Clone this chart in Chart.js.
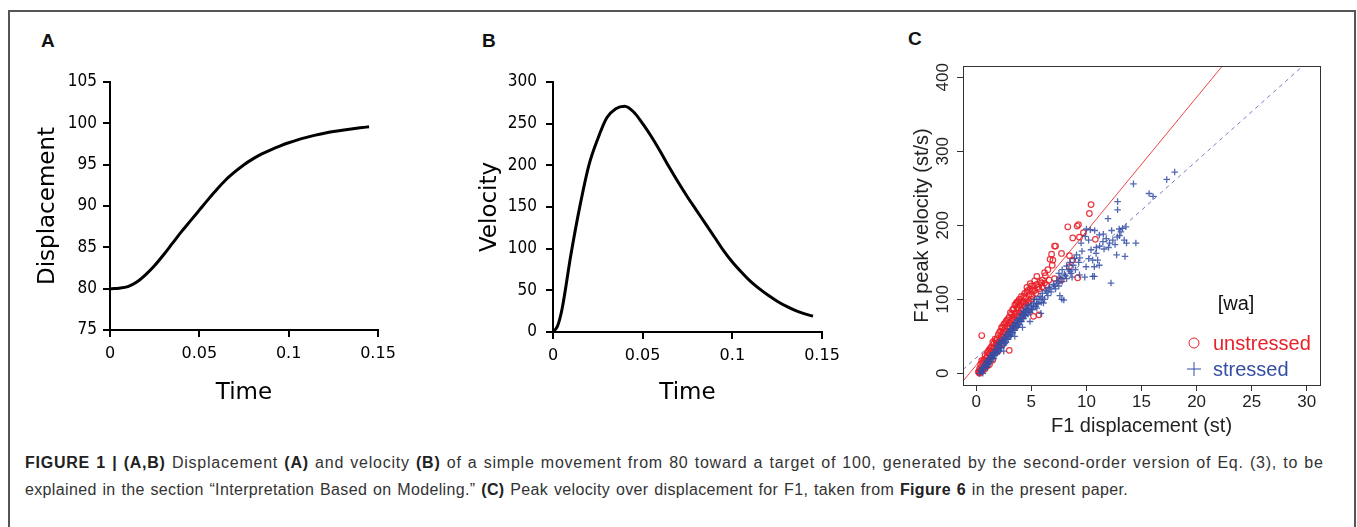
<!DOCTYPE html>
<html lang="en">
<head>
<meta charset="UTF-8">
<title>Figure 1</title>
<script src="https://cdn.jsdelivr.net/npm/chart.js"></script>
<style>
    body { margin: 0; background: #fff; width: 1357px; height: 527px; overflow: hidden; position: relative; font-family: 'Liberation Sans', Arial, sans-serif; }
    .moldura { position: absolute; left: 8px; top: 10px; width: 1348px; height: 600px; border: 2px solid #555; box-sizing: border-box; }
    .painel { position: absolute; }
    .letra { position: absolute; font: bold 19px 'Liberation Sans', Arial, sans-serif; line-height: 19px; color: #111; }
    .legenda { position: absolute; left: 25px; top: 449px; font-size: 16px; word-spacing: 1px; line-height: 27px; color: #333; white-space: nowrap; }
    .legenda b { color: #222; }
    .linha1 { letter-spacing: 0.77px; }
    .linha2 { letter-spacing: 0.35px; }
</style>
</head>
<body>

<div class="moldura"></div>

<div class="letra" style="left:41px; top:31px;">A</div>
<div class="letra" style="left:482px; top:31px;">B</div>
<div class="letra" style="left:908px; top:29px;">C</div>

<canvas id="graficoA" class="painel" width="420" height="360" style="left:20px; top:55px;"></canvas>
<canvas id="graficoB" class="painel" width="420" height="360" style="left:460px; top:55px;"></canvas>
<canvas id="graficoC" class="painel" width="455" height="390" style="left:885px; top:50px;"></canvas>

<div class="legenda">
    <span class="linha1"><b>FIGURE 1 | (A,B)</b> Displacement <b>(A)</b> and velocity <b>(B)</b> of a simple movement from 80 toward a target of 100, generated by the second-order version of Eq. (3), to be</span><br>
    <span class="linha2">explained in the section “Interpretation Based on Modeling.” <b>(C)</b> Peak velocity over displacement for F1, taken from <b>Figure 6</b> in the present paper.</span>
</div>

<script>
    // ---- dados dos paineis A e B (movimento simples de 80 para 100)
    const tempo = [0, 0.0025, 0.005, 0.01, 0.015, 0.02, 0.025, 0.03, 0.035, 0.04, 0.045, 0.05, 0.055, 0.06, 0.065, 0.07,
        0.075, 0.08, 0.085, 0.09, 0.095, 0.1, 0.105, 0.11, 0.115, 0.12, 0.125, 0.13, 0.135, 0.14, 0.145];
    const deslocamento = [80.0, 80.01, 80.05, 80.25, 80.8, 81.7, 82.8, 84.1, 85.5, 86.9, 88.2, 89.5, 90.8, 92.05, 93.2, 94.15,
        95.0, 95.7, 96.3, 96.8, 97.25, 97.65, 98.0, 98.3, 98.57, 98.8, 99.0, 99.17, 99.32, 99.46, 99.58];
    const velocidade = [0, 7, 27, 93, 151, 200, 232, 257, 268, 271, 264, 250, 234, 216, 197, 179,
        162, 146, 130, 114, 98, 84, 72, 61, 52, 44, 37, 31, 26, 22, 19];

    const ticksTempo = [0, 0.05, 0.1, 0.15];
    const ticksDesloc = [75, 80, 85, 90, 95, 100, 105];
    const ticksVeloc = [0, 50, 100, 150, 200, 250, 300];

    // ---- dados do painel C (F1, [wa])
    const naoTonico = [
        [0.2, 2], [0.25, 1], [0.3, 0], [0.3, 6], [0.35, 4], [0.4, 3], [0.45, 2], [0.5, 9], [0.4, 12], [0.6, 14], [0.5, 17],
        [0.7, 8], [0.8, 16], [0.9, 20], [0.8, 24], [1.0, 22], [1.1, 17], [1.0, 28], [1.2, 26], [1.2, 32], [1.3, 22],
        [1.4, 30], [1.4, 36], [1.5, 27], [1.6, 40], [1.6, 34], [1.7, 31], [1.8, 44], [1.8, 38], [1.9, 47], [2.0, 42],
        [2.0, 52], [2.1, 37], [2.2, 46], [2.2, 57], [2.3, 50], [2.4, 54], [2.4, 62], [2.5, 47], [2.6, 60], [2.6, 67],
        [2.7, 57], [2.8, 64], [2.8, 72], [2.9, 53], [3.0, 68], [3.0, 76], [3.1, 62], [3.2, 72], [3.2, 80], [3.3, 66],
        [3.4, 77], [3.4, 87], [3.5, 72], [3.6, 82], [3.6, 94], [3.7, 78], [3.8, 88], [3.8, 97], [3.9, 82], [4.0, 92],
        [4.0, 100], [4.1, 86], [4.2, 97], [4.3, 104], [4.4, 90], [4.5, 102], [4.6, 110], [4.7, 96], [4.8, 106],
        [4.9, 114], [5.0, 100], [5.1, 112], [5.2, 118], [5.4, 108], [5.5, 120], [5.7, 114], [5.8, 124], [6.0, 117],
        [0.6, 4], [0.7, 18], [0.9, 12], [1.0, 10], [1.1, 30], [1.3, 34], [1.5, 42], [1.5, 18], [1.7, 46], [1.9, 36],
        [2.1, 55], [2.3, 62], [2.5, 66], [2.5, 56], [2.7, 70], [2.9, 74], [2.9, 63], [3.1, 82], [3.3, 86], [3.3, 74],
        [3.5, 92], [3.5, 80], [3.7, 96], [3.7, 88], [3.9, 100], [3.9, 92], [4.1, 104], [4.1, 96], [4.3, 96],
        [4.4, 108], [4.5, 94], [4.7, 112], [4.8, 98], [5.0, 118], [5.1, 104], [5.3, 112], [5.6, 116], [6.2, 122],
        [6.6, 126], [2.0, 30], [2.4, 40], [3.6, 64], [4.2, 78], [1.2, 12], [0.8, 6],
        [0.5, 51], [3.0, 31], [5.2, 77], [5.7, 79], [4.6, 116], [4.9, 121], [5.3, 125], [5.5, 131], [6.0, 126],
        [6.4, 119], [5.9, 122], [6.27, 132], [6.2, 136], [7.11, 128], [7.71, 126], [6.5, 140], [6.9, 146], [6.7, 154],
        [6.96, 153], [6.84, 161], [7.74, 162], [7.11, 172], [7.2, 172], [8.46, 159], [8.76, 153], [8.46, 144],
        [9.21, 129], [8.76, 183], [9.37, 184], [9.73, 190], [8.31, 198], [9.16, 199], [9.28, 201], [10.42, 228],
        [10.27, 216], [10.81, 181]
    ];
    const tonico = [
        [0.3, 0], [0.4, 4], [0.5, 2], [0.6, 8], [0.7, 5], [0.8, 12], [0.9, 10], [1.0, 15], [1.1, 12], [1.2, 20],
        [1.3, 16], [1.4, 24], [1.5, 20], [1.6, 28], [1.7, 24], [1.8, 32], [1.9, 28], [2.0, 36], [2.1, 30], [2.2, 40],
        [2.3, 35], [2.4, 44], [2.5, 38], [2.6, 48], [2.7, 42], [2.8, 52], [2.9, 46], [3.0, 56], [3.1, 50], [3.2, 60],
        [3.3, 55], [3.4, 64], [3.5, 58], [3.6, 68], [3.7, 62], [3.8, 72], [3.9, 66], [4.0, 76], [4.1, 70], [4.2, 80],
        [4.3, 74], [4.4, 84], [4.5, 78], [4.6, 86], [4.7, 80], [4.8, 88], [4.9, 82], [5.0, 92], [5.1, 86], [5.2, 95],
        [5.4, 90], [5.5, 100], [5.6, 94], [5.8, 104], [5.9, 96], [6.0, 108], [6.2, 100], [6.3, 112], [6.5, 105],
        [6.6, 116], [6.8, 110], [7.0, 120], [7.2, 114], [7.3, 125], [7.5, 118], [7.6, 130], [7.8, 124], [8.0, 134],
        [8.2, 128], [8.4, 140], [8.6, 135], [8.8, 146],
        [0.5, 6], [0.6, 0], [0.7, 10], [0.9, 16], [1.0, 8], [1.1, 18], [1.2, 14], [1.3, 24], [1.5, 26], [1.6, 20],
        [1.7, 32], [1.8, 26], [1.9, 38], [2.0, 30], [2.1, 42], [2.2, 34], [2.3, 45], [2.5, 48], [2.6, 40], [2.7, 52],
        [2.8, 46], [2.9, 56], [3.0, 50], [3.1, 60], [3.2, 52], [3.3, 64], [3.4, 58], [3.5, 68], [3.6, 62], [3.7, 72],
        [3.8, 64], [3.9, 74], [4.0, 70], [4.1, 80], [4.2, 74], [4.3, 84], [4.4, 78], [4.5, 88], [4.6, 82], [4.7, 92],
        [4.8, 84], [5.0, 86], [5.2, 90], [5.3, 100], [5.5, 94], [5.7, 100], [6.0, 102], [6.4, 110], [6.7, 114],
        [7.1, 118], [7.4, 122], [7.7, 128], [8.1, 132], [8.5, 138], [6.1, 95], [5.5, 88],
        [1.39, 22], [5.87, 81], [4.88, 70], [7.59, 105], [7.77, 100], [7.95, 99], [4.2, 62], [2.5, 30], [3.5, 50],
        [9.52, 176], [9.1, 160], [9.4, 156], [9.6, 165], [9.3, 150], [10.42, 167], [10.88, 162], [10.21, 155],
        [10.57, 153], [11.02, 153], [11.17, 146], [10.72, 144], [9.97, 144], [10.57, 131], [9.85, 130], [9.37, 133],
        [10.72, 131], [8.5, 150], [8.9, 155], [9.0, 140], [8.7, 130], [8.2, 145], [7.8, 140], [7.5, 135],
        [10.75, 193], [10.36, 194], [11.17, 187], [11.54, 188], [12.29, 193], [12.98, 195], [13.13, 191],
        [13.28, 196], [13.59, 198], [11.5, 178], [11.8, 182], [12.1, 176], [12.4, 180], [12.6, 174], [11.2, 172],
        [10.9, 170], [11.6, 168], [12.0, 170], [13.0, 186], [12.8, 184], [13.43, 180], [13.64, 176], [14.49, 176],
        [12.74, 160], [13.5, 158], [12.23, 122], [12.83, 232], [12.83, 221], [11.96, 209], [14.27, 256],
        [15.69, 243], [16.05, 239], [17.29, 262], [18.01, 272], [10.2, 180], [9.9, 185], [10.0, 195]
    ];
    // retas de regressao (pontas do intervalo do eixo x)
    const retaX = [-1.2, 31.2];
    const retaNaoTonicoY = [-10.7, 575.7];
    const retaTonicoY = [5.0, 436.0];

    const ticksDeslocF1 = [0, 5, 10, 15, 20, 25, 30];
    const ticksVelocF1 = [0, 100, 200, 300, 400];

    const vermelho = 'rgb(232,32,42)';
    const azul = 'rgb(52,78,165)';

    function fixarTicks(lista) {
        return function (scale) { scale.ticks = lista.map(v => ({ value: v })); };
    }

    // ---- graficos A e B
    function graficoCurva(id, valores, ticksY, minY, maxY, tituloY, larguraY, alturaX, padDireita, padTituloY, padTicksY) {
        const pontos = tempo.map((t, i) => ({ x: t, y: valores[i] }));
        return new Chart(document.getElementById(id), {
            type: 'scatter',
            data: {
                datasets: [{
                    data: pontos,
                    showLine: true,
                    borderColor: '#000',
                    borderWidth: 3,
                    pointRadius: 0,
                    cubicInterpolationMode: 'monotone'
                }]
            },
            options: {
                responsive: false,
                animation: false,
                layout: { padding: { top: 27, right: padDireita, left: 0, bottom: 0 } },
                plugins: { legend: { display: false }, tooltip: { enabled: false } },
                scales: {
                    x: {
                        type: 'linear', min: 0, max: 0.15,
                        afterBuildTicks: fixarTicks(ticksTempo),
                        afterFit: s => { s.height = alturaX; },
                        grid: { drawOnChartArea: false, color: '#000', lineWidth: 2, tickLength: 7 },
                        border: { color: '#000', width: 2 },
                        ticks: { font: { family: 'DejaVu Sans', size: 16 }, color: '#000', padding: 7, maxRotation: 0, callback: v => String(v) },
                        title: { display: true, text: 'Time', color: '#000', font: { family: 'DejaVu Sans', size: 23 }, padding: { top: 0, bottom: 8 } }
                    },
                    y: {
                        type: 'linear', min: minY, max: maxY,
                        afterBuildTicks: fixarTicks(ticksY),
                        afterFit: s => { s.width = larguraY; },
                        grid: { drawOnChartArea: false, color: '#000', lineWidth: 2, tickLength: 7 },
                        border: { color: '#000', width: 2 },
                        ticks: { font: { family: "'Liberation Sans Narrow', 'DejaVu Sans Condensed', sans-serif", size: 17 }, color: '#000', padding: padTicksY },
                        title: { display: true, text: tituloY, color: '#000', font: { family: 'DejaVu Sans', size: 23 }, padding: { top: padTituloY, bottom: 0 } }
                    }
                }
            }
        });
    }

    graficoCurva('graficoA', deslocamento, ticksDesloc, 75, 105, 'Displacement', 90, 85, 62, 14, 6);
    graficoCurva('graficoB', velocidade, ticksVeloc, 0, 300, 'Velocity', 93, 83, 58, 16, 9);

    // ---- grafico C
    const caixaC = {
        id: 'caixaC',
        afterDraw(chart) {
            const ctx = chart.ctx;
            const a = chart.chartArea;
            ctx.save();
            ctx.strokeStyle = '#333';
            ctx.lineWidth = 1;
            ctx.strokeRect(Math.round(a.left) + 0.5, Math.round(a.top) + 0.5, Math.round(a.right - a.left), Math.round(a.bottom - a.top));

            // rotulos do eixo y na vertical, como no R
            const y = chart.scales.y;
            ctx.fillStyle = '#222';
            ctx.font = '17px "Liberation Sans", Arial, sans-serif';
            ctx.textAlign = 'center';
            ctx.textBaseline = 'middle';
            ticksVelocF1.forEach(v => {
                ctx.save();
                ctx.translate(a.left - 20, y.getPixelForValue(v));
                ctx.rotate(-Math.PI / 2);
                ctx.fillText(String(v), 0, 0);
                ctx.restore();
            });

            // legenda
            ctx.font = '20px "Liberation Sans", Arial, sans-serif';
            ctx.fillStyle = '#111';
            ctx.fillText('[wa]', 351, 254);
            ctx.textAlign = 'left';
            ctx.strokeStyle = vermelho;
            ctx.lineWidth = 1;
            ctx.beginPath();
            ctx.arc(309, 293, 5, 0, Math.PI * 2);
            ctx.stroke();
            ctx.fillStyle = vermelho;
            ctx.fillText('unstressed', 328, 294);
            ctx.strokeStyle = azul;
            ctx.beginPath();
            ctx.moveTo(302, 319); ctx.lineTo(316, 319);
            ctx.moveTo(309, 312); ctx.lineTo(309, 326);
            ctx.stroke();
            ctx.fillStyle = azul;
            ctx.fillText('stressed', 328, 320);
            ctx.restore();
        }
    };

    new Chart(document.getElementById('graficoC'), {
        type: 'scatter',
        data: {
            datasets: [
                {
                    label: 'stressed',
                    data: tonico.map(p => ({ x: p[0], y: p[1] })),
                    pointStyle: 'cross',
                    pointRadius: 3.3,
                    borderWidth: 1.3,
                    borderColor: 'rgba(52,78,165,0.85)',
                    backgroundColor: 'rgba(52,78,165,0.85)'
                },
                {
                    label: 'unstressed',
                    data: naoTonico.map(p => ({ x: p[0], y: p[1] })),
                    pointStyle: 'circle',
                    pointRadius: 2.8,
                    borderWidth: 1.2,
                    borderColor: 'rgba(232,32,42,0.9)',
                    backgroundColor: 'rgba(0,0,0,0)'
                },
                {
                    data: retaX.map((x, i) => ({ x: x, y: retaNaoTonicoY[i] })),
                    showLine: true,
                    pointRadius: 0,
                    borderColor: 'rgb(238,70,70)',
                    borderWidth: 1
                },
                {
                    data: retaX.map((x, i) => ({ x: x, y: retaTonicoY[i] })),
                    showLine: true,
                    pointRadius: 0,
                    borderColor: 'rgb(110,125,195)',
                    borderWidth: 1,
                    borderDash: [4, 4]
                }
            ]
        },
        options: {
            responsive: false,
            animation: false,
            layout: { padding: { top: 16, right: 20, left: 0, bottom: 0 } },
            plugins: { legend: { display: false }, tooltip: { enabled: false } },
            scales: {
                x: {
                    type: 'linear', min: -1.2, max: 31.2,
                    afterBuildTicks: fixarTicks(ticksDeslocF1),
                    afterFit: s => { s.height = 55; },
                    grid: { drawOnChartArea: false, color: '#333', lineWidth: 1, tickLength: 6 },
                    border: { display: false },
                    ticks: { font: { family: 'Liberation Sans', size: 17 }, color: '#222', padding: 1, maxRotation: 0 },
                    title: { display: true, text: 'F1 displacement (st)', color: '#222', font: { family: 'Liberation Sans', size: 20 }, padding: { top: 0, bottom: 2 } }
                },
                y: {
                    type: 'linear', min: -15.8, max: 415.3,
                    afterBuildTicks: fixarTicks(ticksVelocF1),
                    afterFit: s => { s.width = 78; },
                    grid: { drawOnChartArea: false, color: '#333', lineWidth: 1, tickLength: 6 },
                    border: { display: false },
                    ticks: { display: false },
                    title: { display: true, text: 'F1 peak velocity (st/s)', color: '#222', font: { family: 'Liberation Sans', size: 20 }, padding: { top: 25, bottom: 0 } }
                }
            }
        },
        plugins: [caixaC]
    });
</script>
</body>
</html>
